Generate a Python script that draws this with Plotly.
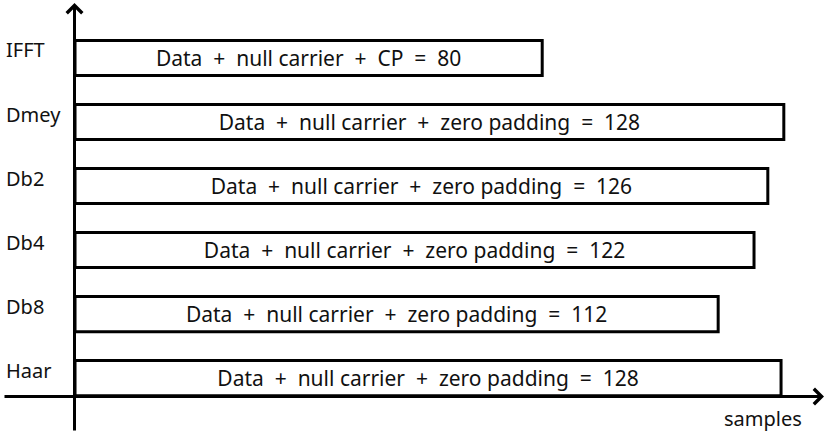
import plotly.graph_objects as go

# ---- data ----
methods = ["IFFT", "Dmey", "Db2", "Db4", "Db8", "Haar"]
frame_sizes = [80, 128, 126, 122, 112, 128]
extension = ["CP", "zero padding", "zero padding", "zero padding", "zero padding", "zero padding"]
# drawn bar extents (in samples)
drawn_extent = [84.7, 128.5, 125.6, 123.1, 116.6, 128.0]
x_axis_label = "samples"

W, H = 827, 435
FONT = "Noto Sans, Open Sans, DejaVu Sans, sans-serif"

labels = [f"Data  +  null carrier  +  {e}  =  {s}".replace("  ", "\u00a0\u00a0")
          for e, s in zip(extension, frame_sizes)]

fig = go.Figure()
fig.add_trace(go.Bar(
    y=methods,
    x=drawn_extent,
    orientation="h",
    width=0.55,
    marker=dict(color="white", line=dict(color="black", width=3)),
    text=labels,
    textposition="inside",
    insidetextanchor="middle",
    textfont=dict(family=FONT, size=21, color="#111111"),
    hoverinfo="skip",
    constraintext="none",
))

def px_x(p):
    return p / W

def px_y(p):
    return 1 - p / H

annotations = []
# method labels on the left
for m in methods:
    annotations.append(dict(
        x=px_x(4), xref="paper", y=m, yref="y", yshift=8,
        text=m, showarrow=False, xanchor="left", yanchor="middle",
        font=dict(family=FONT, size=20, color="#111111"),
    ))
# axis arrows
annotations.append(dict(
    x=px_x(74.5), y=px_y(3), xref="paper", yref="paper",
    ax=0, ay=429, axref="pixel", ayref="pixel",
    showarrow=True, arrowhead=4, arrowsize=1.0, arrowwidth=3, arrowcolor="black", text="",
))
annotations.append(dict(
    x=px_x(824), y=px_y(396.5), xref="paper", yref="paper",
    ax=-821, ay=0, axref="pixel", ayref="pixel",
    showarrow=True, arrowhead=4, arrowsize=1.0, arrowwidth=3, arrowcolor="black", text="",
))
annotations.append(dict(
    x=px_x(763), y=px_y(418), xref="paper", yref="paper",
    text=x_axis_label, showarrow=False, xanchor="center", yanchor="middle",
    font=dict(family=FONT, size=20, color="#111111"),
))

fig.update_layout(
    width=W, height=H,
    margin=dict(l=0, r=0, t=0, b=0),
    paper_bgcolor="white", plot_bgcolor="white",
    showlegend=False,
    xaxis=dict(range=[-13.6, 136.33], visible=False, fixedrange=True),
    yaxis=dict(type="category", categoryarray=methods[::-1], range=[-0.89, 5.906],
               visible=False, fixedrange=True),
    annotations=annotations,
)

fig.write_html("out.html", config={"displayModeBar": False},
               post_script="document.body.style.margin='0';document.body.style.overflow='hidden';")
